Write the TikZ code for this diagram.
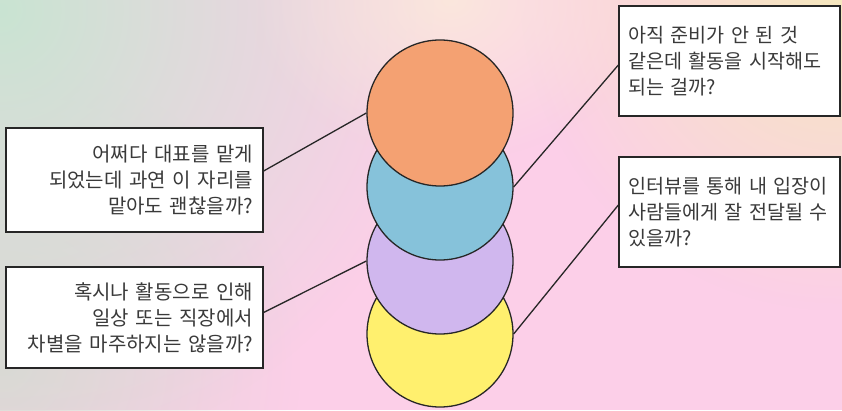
\documentclass[tikz,border=0pt]{standalone}
\usepackage{fontspec}
\newfontfamily\kr{Noto Sans CJK KR}
\usetikzlibrary{fadings}
\definecolor{bgpink}{HTML}{FCCFE8}
\definecolor{bgmint}{HTML}{C9E4D2}
\definecolor{bggray}{HTML}{DDD8D5}
\definecolor{bgyellow}{HTML}{F6E8BE}
\definecolor{corange}{HTML}{F4A172}
\definecolor{cblue}{HTML}{86C2DA}
\definecolor{cpurple}{HTML}{D0B7EE}
\definecolor{cyellow}{HTML}{FFF06E}
\definecolor{edge}{HTML}{262626}
\definecolor{txt}{HTML}{3A3A3A}
\tikzfading[name=softfade, inner color=transparent!0, outer color=transparent!100]
\begin{document}
\begin{tikzpicture}[x=1pt,y=1pt,
  qbox/.style={draw=edge, line width=1.3pt, fill=white, rectangle, minimum width=257pt,
     text width=237pt, inner xsep=10pt, font=\kr\fontsize{20}{26}\selectfont, text=txt},
  qboxr/.style={draw=edge, line width=1.3pt, fill=white, rectangle, minimum width=221pt,
     text width=203pt, inner xsep=9pt, align=left, font=\kr\fontsize{19.6}{26}\selectfont, text=txt},
  disc/.style={circle, draw=edge, line width=1.3pt, minimum size=146pt, inner sep=0pt},
  link/.style={draw=edge, line width=1.3pt}]
\useasboundingbox (0,0) rectangle (842,410);
% background
\fill[bgpink] (0,0) rectangle (842,410);
\fill[bggray, path fading=softfade] (-300,-250) rectangle (300,350);
\fill[bgmint, path fading=softfade] (-450,-50) rectangle (450,850);
\fill[bgyellow, path fading=softfade] (520,100) rectangle (1160,740);
\fill[bgyellow!60!white, opacity=0.7, path fading=softfade] (250,250) rectangle (650,570);
% boxes
\node[qbox, align=right, minimum height=104pt] (lq1) at (134.5,230) {어쩌다 대표를 맡게\\되었는데 과연 이 자리를\\맡아도 괜찮을까?};
\node[qbox, align=right, minimum height=101pt] (lq2) at (134.5,92.5) {혹시나 활동으로 인해\\일상 또는 직장에서\\차별을 마주하지는 않을까?};
\node[qboxr, minimum height=110pt] (rq1) at (729.5,349) {\mbox{아직 준비가 안 된 것}\\\mbox{같은데 활동을 시작해도}\\\mbox{되는 걸까?}};
\node[qboxr, minimum height=110pt] (rq2) at (729.5,198) {\mbox{인터뷰를 통해 내 입장이}\\\mbox{사람들에게 잘 전달될 수}\\\mbox{있을까?}};
% circles
\node[disc, fill=cyellow] (cy) at (440,76) {};
\node[disc, fill=cpurple] (cp) at (440,149) {};
\node[disc, fill=cblue] (cb) at (440,223) {};
\node[disc, fill=corange] (co) at (440,297) {};
% connectors
\draw[link] ([yshift=9pt]lq1.east) -- (co.west);
\draw[link] ([yshift=5pt]lq2.east) -- (cp.west);
\draw[link] ([yshift=-4pt]rq1.west) -- (cb.east);
\draw[link] ([yshift=7pt]rq2.west) -- (cy.east);
\end{tikzpicture}
\end{document}
